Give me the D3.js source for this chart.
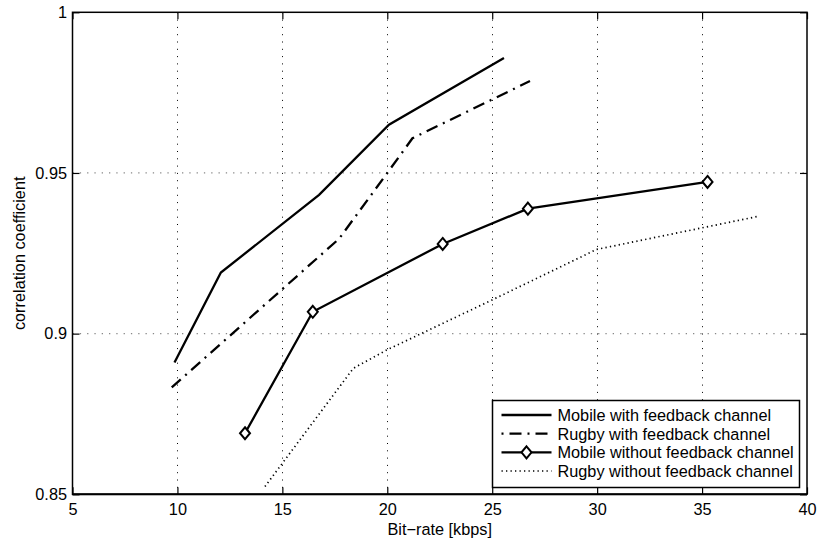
<!DOCTYPE html>
<html>
<head>
<meta charset="utf-8">
<script src="https://cdn.jsdelivr.net/npm/d3@7"></script>
<style>
  body { margin: 0; background: #fff; }
  svg text { font-family: "Liberation Sans", Arial, Helvetica, sans-serif; }
</style>
</head>
<body>
<div id="chart"></div>
<script>
// data
var xTicks = [5, 10, 15, 20, 25, 30, 35, 40];
var yTicks = [0.85, 0.9, 0.95, 1];
var yTickLabels = ["0.85", "0.9", "0.95", "1"];

var mobileFbX = [9.86, 12.07, 16.75, 20.08, 25.56];
var mobileFbY = [0.891, 0.919, 0.9432, 0.965, 0.9858];

var rugbyFbX = [9.73, 17.7, 20.0, 21.2, 26.8];
var rugbyFbY = [0.8833, 0.9295, 0.950, 0.9608, 0.9786];

var mobileNoFbX = [13.22, 16.45, 22.64, 26.70, 35.26];
var mobileNoFbY = [0.869, 0.9068, 0.9279, 0.9389, 0.9472];

var rugbyNoFbX = [14.17, 18.38, 19.97, 25.0, 29.97, 37.75];
var rugbyNoFbY = [0.8524, 0.8892, 0.8949, 0.9105, 0.9262, 0.9366];

var seriesNames = ["Mobile with feedback channel", "Rugby with feedback channel",
                   "Mobile without feedback channel", "Rugby without feedback channel"];

var width = 817,
    height = 542,
    fontSize = "16.3px";

var svg = d3.select("#chart").append("svg")
    .attr("width", width)
    .attr("height", height);

var x = d3.scaleLinear().domain([5, 40]).range([72.5, 807]);
var y = d3.scaleLinear().domain([0.85, 1]).range([494.3, 12.3]);

// grid
svg.append("g").selectAll("line")
  .data(xTicks.slice(1, -1))
  .enter().append("line")
    .attr("x1", function(d) { return Math.round(x(d)) + 0.5; })
    .attr("x2", function(d) { return Math.round(x(d)) + 0.5; })
    .attr("y1", y(1)).attr("y2", y(0.85))
    .attr("stroke", "#000")
    .attr("stroke-width", 1)
    .attr("stroke-dasharray", "1,6.3");

svg.append("g").selectAll("line")
  .data(yTicks.slice(1, -1))
  .enter().append("line")
    .attr("x1", x(5)).attr("x2", x(40))
    .attr("y1", function(d) { return y(d); })
    .attr("y2", function(d) { return y(d); })
    .attr("stroke", "#888")
    .attr("stroke-width", 1.2)
    .attr("stroke-dasharray", "1.3,6");

// axes
var bottomAxis = d3.axisBottom(x).tickValues(xTicks).tickSizeInner(-7).tickSizeOuter(0).tickPadding(9);
var leftAxis = d3.axisLeft(y).tickValues(yTicks).tickSizeInner(-7).tickSizeOuter(0).tickPadding(5.5)
    .tickFormat(function(d, i) { return yTickLabels[i]; });
var topAxis = d3.axisTop(x).tickValues(xTicks).tickSizeInner(-7).tickSizeOuter(0).tickFormat("");
var rightAxis = d3.axisRight(y).tickValues(yTicks).tickSizeInner(-7).tickSizeOuter(0).tickFormat("");

function styleAxis(g) {
  g.select(".domain").remove();
  g.selectAll(".tick line").attr("stroke", "#000").attr("stroke-width", 1.2);
  g.selectAll(".tick text").attr("fill", "#000").style("font-size", fontSize);
}

svg.append("g").attr("transform", "translate(0," + y(0.85) + ")").call(bottomAxis).call(styleAxis);
svg.append("g").attr("transform", "translate(" + x(5) + ",0)").call(leftAxis).call(styleAxis);
svg.append("g").attr("transform", "translate(0," + y(1) + ")").call(topAxis).call(styleAxis);
svg.append("g").attr("transform", "translate(" + x(40) + ",0)").call(rightAxis).call(styleAxis);

// box
svg.append("rect")
  .attr("x", x(5)).attr("y", y(1))
  .attr("width", x(40) - x(5)).attr("height", y(0.85) - y(1))
  .attr("fill", "none").attr("stroke", "#000").attr("stroke-width", 1.5);
svg.append("line")
  .attr("x1", x(5)).attr("x2", x(40))
  .attr("y1", y(0.85)).attr("y2", y(0.85))
  .attr("stroke", "#000").attr("stroke-width", 2);

// lines
var line = d3.line()
  .x(function(d) { return x(d[0]); })
  .y(function(d) { return y(d[1]); });

function pairs(xs, ys) { return xs.map(function(v, i) { return [v, ys[i]]; }); }

var series = [
  { data: pairs(mobileFbX, mobileFbY), dash: null, w: 2.3 },
  { data: pairs(rugbyFbX, rugbyFbY), dash: "12,6,2,6", w: 2.3, legendOffset: 18 },
  { data: pairs(mobileNoFbX, mobileNoFbY), dash: null, w: 2.3, marker: true },
  { data: pairs(rugbyNoFbX, rugbyNoFbY), dash: "1.3,3.2", w: 1.7 }
];

var diamond = "M0,-6L5,0L0,6L-5,0Z";

series.forEach(function(s) {
  svg.append("path")
    .datum(s.data)
    .attr("d", line)
    .attr("fill", "none")
    .attr("stroke", "#000")
    .attr("stroke-width", s.w)
    .attr("stroke-dasharray", s.dash);
  if (s.marker) {
    svg.append("g").selectAll("path")
      .data(s.data)
      .enter().append("path")
        .attr("d", diamond)
        .attr("transform", function(d) { return "translate(" + x(d[0]) + "," + y(d[1]) + ")"; })
        .attr("fill", "#fff")
        .attr("stroke", "#000")
        .attr("stroke-width", 2);
  }
});

// axis titles
svg.append("text")
  .attr("x", (x(5) + x(40)) / 2)
  .attr("y", 535)
  .attr("text-anchor", "middle")
  .style("font-size", fontSize)
  .text("Bit\u2212rate [kbps]");

svg.append("text")
  .attr("transform", "translate(25," + (y(0.85) + y(1)) / 2 + ") rotate(-90)")
  .attr("text-anchor", "middle")
  .style("font-size", fontSize)
  .text("correlation coefficient");

// legend
var legend = svg.append("g").attr("transform", "translate(492.5,400.5)");
legend.append("rect")
  .attr("width", 307).attr("height", 87)
  .attr("fill", "#fff").attr("stroke", "#000").attr("stroke-width", 1.5);

var rowY = d3.scaleLinear().domain([0, 3]).range([14.5, 70.5]);

seriesNames.forEach(function(name, i) {
  var s = series[i];
  var g = legend.append("g").attr("transform", "translate(0," + rowY(i) + ")");
  g.append("line")
    .attr("x1", 9).attr("x2", 59)
    .attr("stroke", "#000")
    .attr("stroke-width", s.w)
    .attr("stroke-dasharray", s.dash)
    .attr("stroke-dashoffset", s.legendOffset || 0);
  if (s.marker) {
    g.append("path").attr("d", diamond).attr("transform", "translate(34,0)")
      .attr("fill", "#fff").attr("stroke", "#000").attr("stroke-width", 2);
  }
  g.append("text")
    .attr("x", 65)
    .attr("dy", "0.36em")
    .style("font-size", fontSize)
    .text(name);
});
</script>
</body>
</html>
